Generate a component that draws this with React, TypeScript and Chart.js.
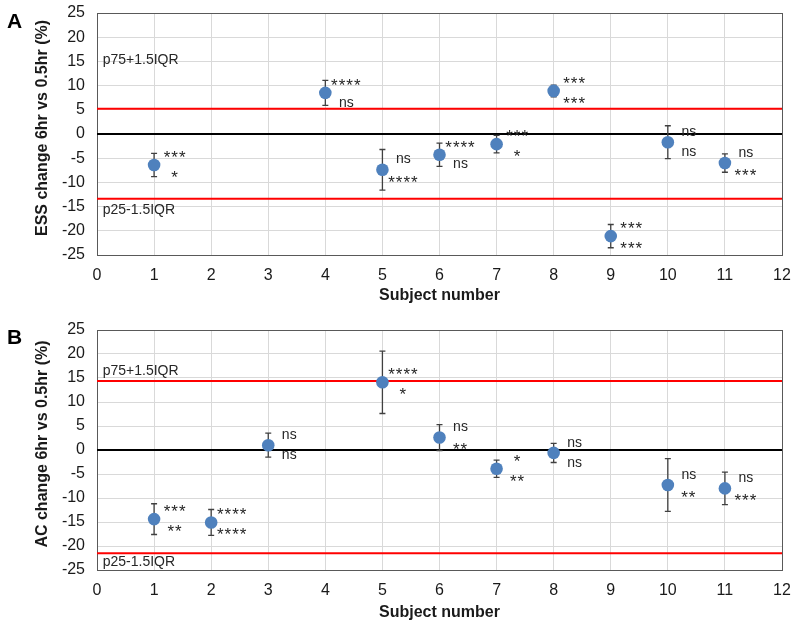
import React, { useEffect, useRef } from "react";
import { Chart, registerables } from "chart.js";

Chart.register(...registerables);

// ---------- data ----------
const xMin = 0;
const xMax = 12;
const xStep = 1;
const yMin = -25;
const yMax = 25;
const yStep = 5;

const subjectsA = [1, 4, 5, 6, 7, 8, 9, 10, 11];
const essChange = [-6.4, 8.5, -7.4, -4.3, -2.1, 8.9, -21.1, -1.7, -6.0];
const essError = [2.4, 2.6, 4.2, 2.4, 1.8, 1.2, 2.4, 3.4, 1.9];
const essSigUpper = ["***", "****", "ns", "****", "***", "***", "***", "ns", "ns"];
const essSigLower = ["*", "ns", "****", "ns", "*", "***", "***", "ns", "***"];
const essUpperLimit = 5.2;
const essLowerLimit = -13.4;

const subjectsB = [1, 2, 3, 5, 6, 7, 8, 10, 11];
const acChange = [-14.4, -15.1, 1.0, 14.1, 2.6, -3.9, -0.6, -7.3, -8.0];
const acError = [3.2, 2.7, 2.5, 6.5, 2.7, 1.8, 2.0, 5.5, 3.4];
const acSigUpper = ["***", "****", "ns", "****", "ns", "*", "ns", "ns", "ns"];
const acSigLower = ["**", "****", "ns", "*", "**", "**", "ns", "**", "***"];
const acUpperLimit = 14.4;
const acLowerLimit = -21.5;

const upperLimitLabel = "p75+1.5IQR";
const lowerLimitLabel = "p25-1.5IQR";
const xTitle = "Subject number";

// ---------- styling ----------
const FONT = "'Liberation Sans', Arial, sans-serif";
const POINT_COLOR = "#4F81BD";

type Panel = {
  letter: string;
  yTitle: string;
  subjects: number[];
  values: number[];
  errors: number[];
  sigUpper: string[];
  sigLower: string[];
  upperLimit: number;
  lowerLimit: number;
  upperLabelAt: number;
  lowerLabelAt: number;
  height: number;
  padTop: number;
  xAxisHeight: number;
  titlePadBottom: number;
  letterY: number;
};

const panels: Panel[] = [
  {
    letter: "A",
    yTitle: "ESS change 6hr vs 0.5hr (%)",
    subjects: subjectsA,
    values: essChange,
    errors: essError,
    sigUpper: essSigUpper,
    sigLower: essSigLower,
    upperLimit: essUpperLimit,
    lowerLimit: essLowerLimit,
    upperLabelAt: 15.2,
    lowerLabelAt: -15.8,
    height: 313,
    padTop: 13,
    xAxisHeight: 58,
    titlePadBottom: 8,
    letterY: 22,
  },
  {
    letter: "B",
    yTitle: "AC change 6hr vs 0.5hr (%)",
    subjects: subjectsB,
    values: acChange,
    errors: acError,
    sigUpper: acSigUpper,
    sigLower: acSigLower,
    upperLimit: acUpperLimit,
    lowerLimit: acLowerLimit,
    upperLabelAt: 16.5,
    lowerLabelAt: -23.3,
    height: 314,
    padTop: 17,
    xAxisHeight: 57,
    titlePadBottom: 5,
    letterY: 25,
  },
];

function drawSig(ctx: CanvasRenderingContext2D, text: string, x: number, y: number) {
  ctx.save();
  ctx.fillStyle = "#262626";
  ctx.textAlign = "center";
  ctx.textBaseline = "alphabetic";
  if (text.includes("*")) {
    ctx.font = `17px ${FONT}`;
    (ctx as any).letterSpacing = "1px";
    ctx.fillText(text, x, y + 0.58 * 17 - 2);
  } else {
    ctx.font = `14px ${FONT}`;
    ctx.fillText(text, x, y + 0.26 * 14);
  }
  ctx.restore();
}

function makePlugin(p: Panel) {
  return {
    id: "panelDecor",
    beforeDatasetsDraw(chart: any) {
      const { ctx, chartArea } = chart;
      const xs = chart.scales.x;
      const ys = chart.scales.y;
      ctx.save();
      // plot border
      ctx.strokeStyle = "#595959";
      ctx.lineWidth = 1;
      ctx.strokeRect(
        Math.round(chartArea.left) + 0.5,
        Math.round(chartArea.top) + 0.5,
        Math.round(chartArea.right - chartArea.left),
        Math.round(chartArea.bottom - chartArea.top)
      );
      // zero line
      const y0 = ys.getPixelForValue(0);
      ctx.strokeStyle = "#000000";
      ctx.lineWidth = 2;
      ctx.beginPath();
      ctx.moveTo(chartArea.left, y0);
      ctx.lineTo(chartArea.right, y0);
      ctx.stroke();
      // limit lines
      ctx.strokeStyle = "#FF0000";
      ctx.lineWidth = 2;
      [p.upperLimit, p.lowerLimit].forEach((v) => {
        const yy = ys.getPixelForValue(v);
        ctx.beginPath();
        ctx.moveTo(chartArea.left, yy);
        ctx.lineTo(chartArea.right, yy);
        ctx.stroke();
      });
      // limit labels
      ctx.fillStyle = "#262626";
      ctx.font = `14px ${FONT}`;
      ctx.textAlign = "left";
      ctx.textBaseline = "middle";
      ctx.fillText(upperLimitLabel, xs.getPixelForValue(0.1), ys.getPixelForValue(p.upperLabelAt));
      ctx.fillText(lowerLimitLabel, xs.getPixelForValue(0.1), ys.getPixelForValue(p.lowerLabelAt));
      // error bars
      ctx.strokeStyle = "#404040";
      ctx.lineWidth = 1.3;
      p.subjects.forEach((s, i) => {
        const px = xs.getPixelForValue(s);
        const top = ys.getPixelForValue(p.values[i] + p.errors[i]);
        const bot = ys.getPixelForValue(p.values[i] - p.errors[i]);
        ctx.beginPath();
        ctx.moveTo(px, top);
        ctx.lineTo(px, bot);
        ctx.moveTo(px - 3, top);
        ctx.lineTo(px + 3, top);
        ctx.moveTo(px - 3, bot);
        ctx.lineTo(px + 3, bot);
        ctx.stroke();
      });
      ctx.restore();
    },
    afterDatasetsDraw(chart: any) {
      const { ctx, chartArea } = chart;
      const xs = chart.scales.x;
      const ys = chart.scales.y;
      p.subjects.forEach((s, i) => {
        const px = xs.getPixelForValue(s);
        const py = ys.getPixelForValue(p.values[i]);
        drawSig(ctx, p.sigUpper[i], px + 21, py - 10);
        drawSig(ctx, p.sigLower[i], px + 21, py + 10);
      });
      ctx.save();
      // panel letter
      ctx.fillStyle = "#000000";
      ctx.font = `bold 21px ${FONT}`;
      ctx.textAlign = "left";
      ctx.textBaseline = "middle";
      ctx.fillText(p.letter, 7, p.letterY);
      // y axis title
      ctx.fillStyle = "#1a1a1a";
      ctx.font = `bold 16px ${FONT}`;
      ctx.textAlign = "center";
      ctx.textBaseline = "middle";
      ctx.translate(43, (chartArea.top + chartArea.bottom) / 2 - 6);
      ctx.rotate(-Math.PI / 2);
      ctx.fillText(p.yTitle, 0, 0);
      ctx.restore();
    },
  };
}

function PanelChart({ p }: { p: Panel }) {
  const ref = useRef<HTMLCanvasElement>(null);
  useEffect(() => {
    if (!ref.current) return;
    const chart = new Chart(ref.current, {
      type: "scatter",
      data: {
        datasets: [
          {
            data: p.subjects.map((s, i) => ({ x: s, y: p.values[i] })),
            backgroundColor: POINT_COLOR,
            borderColor: POINT_COLOR,
            borderWidth: 0,
            pointRadius: 6.3,
            pointHoverRadius: 6.3,
          },
        ],
      },
      options: {
        animation: false,
        responsive: false,
        maintainAspectRatio: false,
        events: [],
        layout: { padding: { top: p.padTop, right: 18, bottom: 0, left: 0 } },
        plugins: { legend: { display: false }, tooltip: { enabled: false } },
        scales: {
          x: {
            type: "linear",
            min: xMin,
            max: xMax,
            ticks: { stepSize: xStep, padding: 11, color: "#1a1a1a", font: { family: FONT, size: 16 } },
            grid: { color: "#d9d9d9", drawTicks: false, lineWidth: 1 },
            border: { display: false },
            title: {
              display: true,
              text: xTitle,
              color: "#1a1a1a",
              font: { family: FONT, size: 16, weight: "bold" },
              padding: { top: 0, bottom: p.titlePadBottom },
            },
            afterFit: (s: any) => {
              s.height = p.xAxisHeight;
              s.paddingLeft = 0;
              s.paddingRight = 0;
            },
          },
          y: {
            type: "linear",
            min: yMin,
            max: yMax,
            ticks: { stepSize: yStep, padding: 12, color: "#1a1a1a", font: { family: FONT, size: 16 } },
            grid: { color: "#d9d9d9", drawTicks: false, lineWidth: 1 },
            border: { display: false },
            title: { display: false },
            afterFit: (s: any) => {
              s.width = 97;
              s.paddingTop = 0;
              s.paddingBottom = 0;
            },
          },
        },
      } as any,
      plugins: [makePlugin(p)],
    });
    return () => chart.destroy();
  }, [p]);
  return <canvas ref={ref} width={800} height={p.height} style={{ display: "block", width: 800, height: p.height }} />;
}

export default function App() {
  return (
    <div style={{ position: "absolute", top: 0, left: 0, width: 800, height: 627, background: "#ffffff" }}>
      {panels.map((p) => (
        <PanelChart key={p.letter} p={p} />
      ))}
    </div>
  );
}
